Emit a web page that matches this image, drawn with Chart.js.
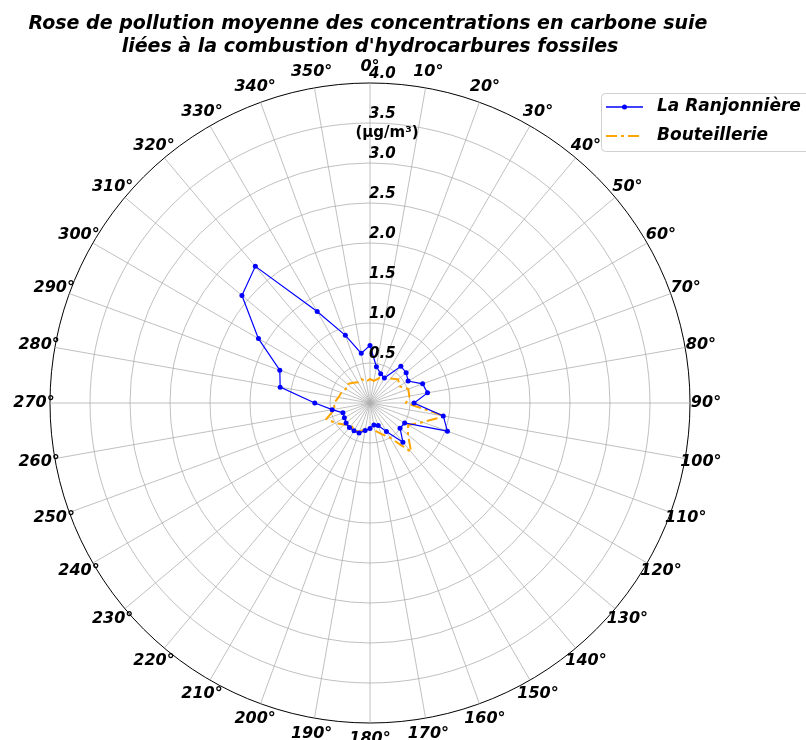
<!DOCTYPE html>
<html>
<head>
<meta charset="utf-8">
<script src="https://cdn.jsdelivr.net/npm/chart.js@4/dist/chart.umd.min.js"></script>
<style>
  html, body { margin: 0; padding: 0; background: #ffffff; }
  canvas { display: block; }
</style>
</head>
<body>
<canvas id="rose" width="806" height="740"></canvas>
<script>
// Wind directions (degrees, clockwise from north)
const directionLabels = ['0°','10°','20°','30°','40°','50°','60°','70°','80°','90°',
  '100°','110°','120°','130°','140°','150°','160°','170°','180°','190°',
  '200°','210°','220°','230°','240°','250°','260°','270°','280°','290°',
  '300°','310°','320°','330°','340°','350°'];

// Mean black carbon concentration per direction (µg/m³)
const ranjonniere = [0.72, 0.46, 0.39, 0.36, 0.60, 0.59, 0.55, 0.70, 0.73, 0.55,
  0.93, 1.03, 0.50, 0.49, 0.64, 0.41, 0.30, 0.28, 0.32, 0.35,
  0.40, 0.40, 0.40, 0.39, 0.37, 0.36, 0.48, 0.69, 1.14, 1.20,
  1.61, 2.09, 2.23, 1.32, 0.90, 0.63];

const bouteillerie = [0.30, 0.28, 0.33, 0.38, 0.40, 0.46, 0.42, 0.51, 0.50, 0.45,
  0.95, 0.70, 0.55, 0.62, 0.80, 0.50, 0.41, 0.35, 0.30, 0.33,
  0.38, 0.40, 0.36, 0.42, 0.50, 0.58, 0.45, 0.45, 0.40, 0.38,
  0.35, 0.37, 0.33, 0.30, 0.32, 0.27];

// Radial tick values
const radialTicks = [0.5, 1.0, 1.5, 2.0, 2.5, 3.0, 3.5, 4.0];

const titleLines = ['Rose de pollution moyenne des concentrations en carbone suie',
  "liées à la combustion d'hydrocarbures fossiles"];
const unitLabel = '(µg/m³)';
const seriesNames = ['La Ranjonnière', 'Bouteillerie'];

const FONT = '"DejaVu Sans", sans-serif';
const BLUE = '#0000ff';
const ORANGE = '#ffa500';
const ORANGE_DASH = [11, 4, 3, 4];

const decorations = {
  id: 'decorations',
  beforeDraw(chart) {
    const ctx = chart.ctx;
    ctx.save();
    ctx.fillStyle = '#ffffff';
    ctx.fillRect(0, 0, chart.width, chart.height);
    ctx.restore();
  },
  afterDraw(chart) {
    const ctx = chart.ctx;
    const r = chart.scales.r;
    const R = r.drawingArea;
    ctx.save();

    // direction labels around the outer circle
    ctx.fillStyle = '#000';
    ctx.font = 'italic bold 16px ' + FONT;
    ctx.textAlign = 'center';
    ctx.textBaseline = 'middle';
    directionLabels.forEach((lab, i) => {
      const p = r.getPointPosition(i, R + 16);
      ctx.fillText(lab, p.x, p.y);
    });

    // radial tick labels next to the north axis
    ctx.font = 'italic bold 15px ' + FONT;
    ctx.textAlign = 'left';
    ctx.textBaseline = 'alphabetic';
    radialTicks.forEach(v => {
      const d = r.getDistanceFromCenterForValue(v);
      ctx.fillText(v.toFixed(1), r.xCenter - 1, r.yCenter - d - 5);
    });

    // unit
    ctx.font = 'bold 15px ' + FONT;
    ctx.textAlign = 'center';
    ctx.textBaseline = 'middle';
    ctx.fillText(unitLabel, r.xCenter + 17, r.yCenter - r.getDistanceFromCenterForValue(3.37));

    // title
    ctx.font = 'italic bold 19px ' + FONT;
    ctx.textAlign = 'center';
    ctx.textBaseline = 'alphabetic';
    ctx.fillText(titleLines[0], r.xCenter - 2, 29);
    ctx.fillText(titleLines[1], r.xCenter, 52);

    // legend
    ctx.beginPath();
    ctx.roundRect(601.5, 93.5, 215, 58, 4);
    ctx.fillStyle = 'rgba(255,255,255,0.8)';
    ctx.fill();
    ctx.strokeStyle = '#d0d0d0';
    ctx.lineWidth = 1;
    ctx.stroke();

    ctx.strokeStyle = BLUE;
    ctx.lineWidth = 1.3;
    ctx.beginPath();
    ctx.moveTo(606, 107);
    ctx.lineTo(643, 107);
    ctx.stroke();
    ctx.fillStyle = BLUE;
    ctx.beginPath();
    ctx.arc(624.5, 107, 2.5, 0, Math.PI * 2);
    ctx.fill();

    ctx.strokeStyle = ORANGE;
    ctx.lineWidth = 2;
    ctx.setLineDash(ORANGE_DASH);
    ctx.beginPath();
    ctx.moveTo(606, 136);
    ctx.lineTo(643, 136);
    ctx.stroke();
    ctx.setLineDash([]);

    ctx.fillStyle = '#000';
    ctx.font = 'italic bold 17px ' + FONT;
    ctx.textAlign = 'left';
    ctx.textBaseline = 'middle';
    ctx.fillText(seriesNames[0], 657, 107);
    ctx.fillText(seriesNames[1], 657, 136);

    ctx.restore();
  }
};

new Chart(document.getElementById('rose'), {
  type: 'radar',
  data: {
    labels: directionLabels,
    datasets: [
      {
        label: seriesNames[0],
        data: ranjonniere,
        borderColor: BLUE,
        backgroundColor: BLUE,
        borderWidth: 1.2,
        pointRadius: 2.5,
        pointBorderWidth: 0,
        pointBackgroundColor: BLUE,
        fill: false,
        tension: 0
      },
      {
        label: seriesNames[1],
        data: bouteillerie,
        borderColor: ORANGE,
        backgroundColor: ORANGE,
        borderWidth: 2,
        borderDash: ORANGE_DASH,
        pointRadius: 0,
        fill: false,
        tension: 0
      }
    ]
  },
  options: {
    responsive: false,
    animation: false,
    layout: { padding: { left: 50, right: 116, top: 83, bottom: 17 } },
    plugins: {
      legend: { display: false },
      title: { display: false },
      tooltip: { enabled: false }
    },
    scales: {
      r: {
        min: 0,
        max: 4,
        startAngle: 0,
        ticks: { display: false, stepSize: 0.5 },
        pointLabels: { display: false },
        grid: {
          circular: true,
          color: c => (c.tick && c.tick.value === 4 ? '#000000' : '#b0b0b0'),
          lineWidth: c => (c.tick && c.tick.value === 4 ? 1 : 0.8)
        },
        angleLines: { color: '#b0b0b0', lineWidth: 0.8 }
      }
    }
  },
  plugins: [decorations]
});
</script>
</body>
</html>
